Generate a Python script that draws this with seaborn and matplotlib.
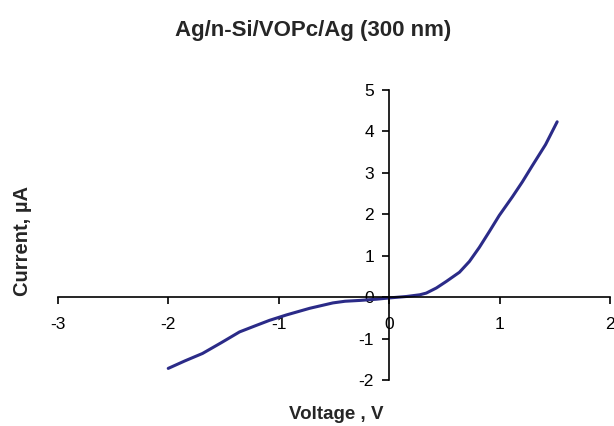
import matplotlib
matplotlib.use("Agg")
import matplotlib.pyplot as plt
import seaborn as sns
import pandas as pd

# I-V data
voltage = [-2.00, -1.85, -1.69, -1.52, -1.355, -1.22, -1.083, -0.93, -0.72, -0.51,
           -0.40, -0.266, -0.114, 0.0, 0.156, 0.276, 0.335, 0.426, 0.516, 0.635,
           0.725, 0.815, 0.905, 0.995, 1.114, 1.204, 1.294, 1.414, 1.519]
current = [-1.72, -1.54, -1.36, -1.10, -0.84, -0.70, -0.56, -0.43, -0.27, -0.14,
           -0.10, -0.08, -0.05, -0.02, 0.015, 0.056, 0.097, 0.22, 0.378, 0.60,
           0.86, 1.20, 1.58, 1.97, 2.42, 2.78, 3.17, 3.68, 4.23]

title = "Ag/n-Si/VOPc/Ag (300 nm)"
xlabel = "Voltage , V"
ylabel = "Current, µA"
xticks = [-3, -2, -1, 0, 1, 2]
yticks = [-2, -1, 0, 1, 2, 3, 4, 5]


def main():
    sns.set_style("white")
    plt.rcParams["font.family"] = ["Liberation Sans", "DejaVu Sans"]
    plt.rcParams["axes.unicode_minus"] = False

    df = pd.DataFrame({"V": voltage, "I": current})

    fig = plt.figure(figsize=(6.14, 4.26), dpi=100)
    ax = fig.add_axes([0.094, 0.108, 0.900, 0.681])

    sns.lineplot(data=df, x="V", y="I", sort=False, color="#2b2b88",
                 linewidth=2.2, ax=ax)

    ax.set_xlim(-3, 2)
    ax.set_ylim(-2, 5)
    ax.set_xticks(xticks)
    ax.set_yticks(yticks)
    ax.set_xlabel("")
    ax.set_ylabel("")

    # axes crossing at the origin
    ax.spines["left"].set_position(("data", 0))
    ax.spines["bottom"].set_position(("data", 0))
    ax.spines["top"].set_visible(False)
    ax.spines["right"].set_visible(False)
    for s in ("left", "bottom"):
        ax.spines[s].set_color("black")
        ax.spines[s].set_linewidth(1.2)
    ax.tick_params(axis="both", direction="out", length=5, width=1.2,
                   colors="black", labelsize=12.5, bottom=True, left=True)
    ax.tick_params(axis="x", pad=9)
    ax.tick_params(axis="y", pad=6)

    fig.text(0.51, 0.928, title, ha="center", va="center",
             fontsize=16, fontweight="bold")
    fig.text(0.548, 0.028, xlabel, ha="center", va="center",
             fontsize=13.5, fontweight="bold")
    fig.text(0.036, 0.435, ylabel, ha="center", va="center", rotation=90,
             fontsize=14.5, fontweight="bold")

    fig.savefig("out.png", dpi=100)


if __name__ == "__main__":
    main()
